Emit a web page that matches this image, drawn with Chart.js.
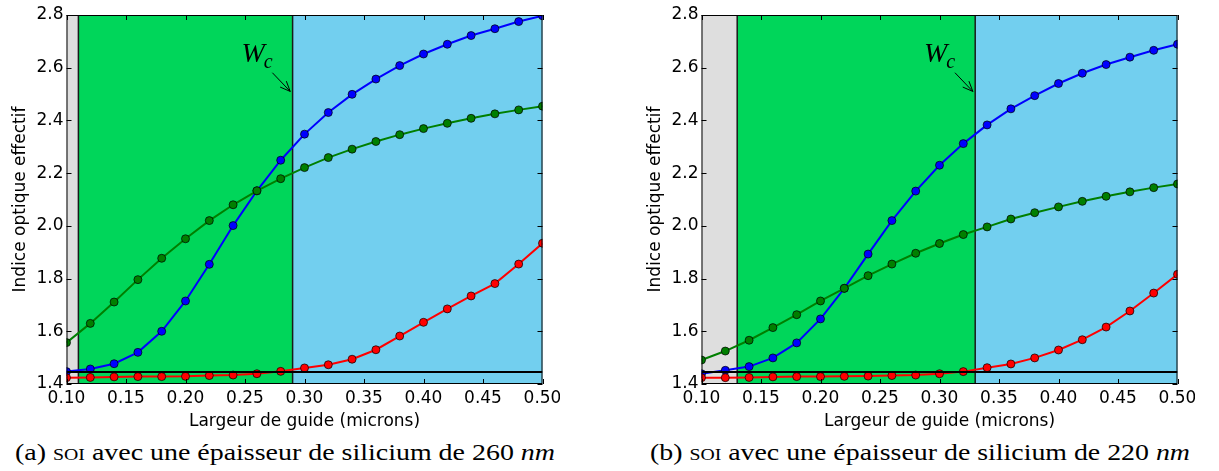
<!DOCTYPE html>
<html>
<head>
<meta charset="utf-8">
<script src="https://cdn.jsdelivr.net/npm/chart.js@4.4.0/dist/chart.umd.min.js"></script>
<style>
  body { margin: 0; background: #fff; width: 1219px; height: 471px; overflow: hidden; position: relative; }
  .box { position: absolute; top: 0; width: 560px; height: 432px; }
  .cap { position: absolute; top: 440px; font-family: "Liberation Serif", serif; font-size: 24px; line-height: 24px;
         white-space: nowrap; color: #000; transform-origin: 0 0; }
  .sc { font-variant: small-caps; }
</style>
</head>
<body>
<div class="box" style="left:0"><canvas id="chartA"></canvas></div>
<div class="box" style="left:635px"><canvas id="chartB"></canvas></div>
<div class="cap" id="capA" style="left:15px">(a) <span class="sc">soi</span> avec une épaisseur de silicium de 260 <i>nm</i></div>
<div class="cap" id="capB" style="left:650px">(b) <span class="sc">soi</span> avec une épaisseur de silicium de 220 <i>nm</i></div>
<script>
// largeurs de guide (microns)
const largeurs = [0.10, 0.12, 0.14, 0.16, 0.18, 0.20, 0.22, 0.24, 0.26, 0.28, 0.30,
                  0.32, 0.34, 0.36, 0.38, 0.40, 0.42, 0.44, 0.46, 0.48, 0.50];

// (a) silicium 260 nm
const bleuA = [1.447, 1.457, 1.477, 1.520, 1.600, 1.715, 1.854, 2.001, 2.133, 2.249, 2.348,
               2.430, 2.499, 2.557, 2.608, 2.652, 2.689, 2.722, 2.748, 2.775, 2.797];
const vertA = [1.557, 1.630, 1.711, 1.796, 1.877, 1.951, 2.020, 2.080, 2.133, 2.179, 2.221,
               2.259, 2.291, 2.320, 2.346, 2.369, 2.389, 2.408, 2.425, 2.440, 2.454];
const rougeA = [1.424, 1.425, 1.427, 1.428, 1.428, 1.429, 1.432, 1.434, 1.439, 1.448, 1.461,
                1.473, 1.494, 1.530, 1.582, 1.634, 1.685, 1.734, 1.781, 1.855, 1.934];

// (b) silicium 220 nm
const bleuB = [1.439, 1.452, 1.466, 1.499, 1.556, 1.647, 1.763, 1.893, 2.020, 2.132, 2.230,
               2.312, 2.383, 2.444, 2.494, 2.540, 2.579, 2.612, 2.640, 2.666, 2.689];
const vertB = [1.491, 1.525, 1.566, 1.614, 1.663, 1.715, 1.763, 1.811, 1.855, 1.896, 1.933,
               1.967, 1.996, 2.026, 2.050, 2.072, 2.093, 2.112, 2.129, 2.145, 2.159];
const rougeB = [1.424, 1.424, 1.425, 1.427, 1.428, 1.428, 1.429, 1.430, 1.432, 1.434, 1.439,
                1.447, 1.462, 1.476, 1.499, 1.529, 1.568, 1.616, 1.677, 1.745, 1.816];

// limites des zones (gris / vert / bleu), la seconde est Wc
const zonesA = [0.11, 0.29];
const zonesB = [0.13, 0.33];
const indiceSilice = 1.446;

const police = "'DejaVu Sans', sans-serif";

// fonds colorés + cadre, ticks intérieurs et annotation Wc
const fondPlugin = {
  id: 'fond',
  beforeDatasetsDraw(chart, args, opts) {
    const {ctx, chartArea: a, scales: {x}} = chart;
    const x0 = x.getPixelForValue(opts.zones[0]);
    const x1 = x.getPixelForValue(opts.zones[1]);
    ctx.save();
    ctx.fillStyle = '#dedede';
    ctx.fillRect(a.left, a.top, x0 - a.left, a.height);
    ctx.fillStyle = '#00d65a';
    ctx.fillRect(x0, a.top, x1 - x0, a.height);
    ctx.fillStyle = '#72cfef';
    ctx.fillRect(x1, a.top, a.right - x1, a.height);
    ctx.fillStyle = '#1a1a1a';
    [x0, x1].forEach(px => ctx.fillRect(px - 0.75, a.top, 1.5, a.height));
    ctx.restore();
  },
  afterDraw(chart, args, opts) {
    const {ctx, chartArea: a, scales: {x, y}} = chart;
    ctx.save();
    ctx.strokeStyle = '#000';
    ctx.lineWidth = 1;
    ctx.strokeRect(a.left + 0.5, a.top + 0.5, a.width - 1, a.height - 1);
    const L = 5;
    ctx.beginPath();
    x.ticks.forEach(t => {
      const px = Math.round(x.getPixelForValue(t.value)) + 0.5;
      ctx.moveTo(px, a.bottom); ctx.lineTo(px, a.bottom - L);
      ctx.moveTo(px, a.top); ctx.lineTo(px, a.top + L);
    });
    y.ticks.forEach(t => {
      const py = Math.round(y.getPixelForValue(t.value)) + 0.5;
      ctx.moveTo(a.left, py); ctx.lineTo(a.left + L, py);
      ctx.moveTo(a.right, py); ctx.lineTo(a.right - L, py);
    });
    ctx.stroke();

    // annotation Wc
    const wc = opts.zones[1];
    const tx = x.getPixelForValue(wc - 0.043);
    const ty = y.getPixelForValue(2.623);
    ctx.fillStyle = '#000';
    ctx.font = "italic 28px 'Liberation Serif', serif";
    ctx.textBaseline = 'alphabetic';
    ctx.fillText('W', tx, ty);
    const w = ctx.measureText('W').width;
    ctx.font = "italic 20px 'Liberation Serif', serif";
    ctx.fillText('c', tx + w - 1, ty + 6);

    const ax0 = x.getPixelForValue(wc - 0.017), ay0 = y.getPixelForValue(2.581);
    const ax1 = x.getPixelForValue(wc - 0.002), ay1 = y.getPixelForValue(2.51);
    const ang = Math.atan2(ay1 - ay0, ax1 - ax0);
    ctx.lineWidth = 1;
    ctx.beginPath();
    ctx.moveTo(ax0, ay0); ctx.lineTo(ax1, ay1);
    [-0.4, 0.4].forEach(d => {
      ctx.moveTo(ax1, ay1);
      ctx.lineTo(ax1 - 11 * Math.cos(ang + d), ay1 - 11 * Math.sin(ang + d));
    });
    ctx.stroke();
    ctx.restore();
  }
};

function serie(valeurs, couleur, ordre) {
  return {
    data: largeurs.map((l, i) => ({x: l, y: valeurs[i]})),
    borderColor: couleur,
    backgroundColor: couleur,
    borderWidth: 2,
    pointRadius: 4,
    pointBorderWidth: 1,
    pointBorderColor: 'rgba(0,0,0,0.7)',
    pointBackgroundColor: couleur,
    order: ordre,
  };
}

function graphique(id, bleu, vert, rouge, zones) {
  return new Chart(document.querySelector(id), {
    type: 'line',
    data: {
      datasets: [
        serie(rouge, '#ff0000', 1),
        serie(vert, '#007f00', 2),
        serie(bleu, '#0000ff', 3),
        {
          data: [{x: 0.10, y: indiceSilice}, {x: 0.50, y: indiceSilice}],
          borderColor: '#000',
          borderWidth: 2,
          pointRadius: 0,
          order: 0,
        },
      ],
    },
    options: {
      responsive: true,
      maintainAspectRatio: false,
      animation: false,
      layout: { padding: { top: 15, right: 17.5, left: 0, bottom: 0 } },
      plugins: {
        legend: { display: false },
        tooltip: { enabled: false },
        fond: { zones: zones },
      },
      scales: {
        x: {
          type: 'linear',
          min: 0.10,
          max: 0.50,
          grid: { display: false, drawTicks: false },
          border: { display: false },
          ticks: {
            stepSize: 0.05,
            color: '#000',
            padding: 4,
            maxRotation: 0,
            font: { family: police, size: 17 },
            callback: v => v.toFixed(2),
          },
          title: {
            display: true,
            text: 'Largeur de guide (microns)',
            color: '#000',
            font: { family: police, size: 17 },
            padding: { top: 0, bottom: 0 },
          },
          afterFit(s) { s.height = 48; s.paddingLeft = 0; s.paddingRight = 0; },
        },
        y: {
          min: 1.4,
          max: 2.8,
          grid: { display: false, drawTicks: false },
          border: { display: false },
          ticks: {
            stepSize: 0.2,
            color: '#000',
            padding: 3,
            font: { family: police, size: 17 },
            callback: v => v.toFixed(1),
          },
          title: {
            display: true,
            text: 'Indice optique effectif',
            color: '#000',
            font: { family: police, size: 17 },
            padding: { top: 10, bottom: 0 },
          },
          afterFit(s) { s.width = 66.5; s.paddingTop = 0; s.paddingBottom = 0; },
        },
      },
    },
    plugins: [fondPlugin],
  });
}

graphique('#chartA', bleuA, vertA, rougeA, zonesA);
graphique('#chartB', bleuB, vertB, rougeB, zonesB);

// légendes (a) et (b) étirées à la largeur de la figure
[['#capA', 540], ['#capB', 540]].forEach(([id, cible]) => {
  const el = document.querySelector(id);
  const w = el.getBoundingClientRect().width;
  el.style.transform = 'scaleX(' + (cible / w) + ')';
});
</script>
</body>
</html>
